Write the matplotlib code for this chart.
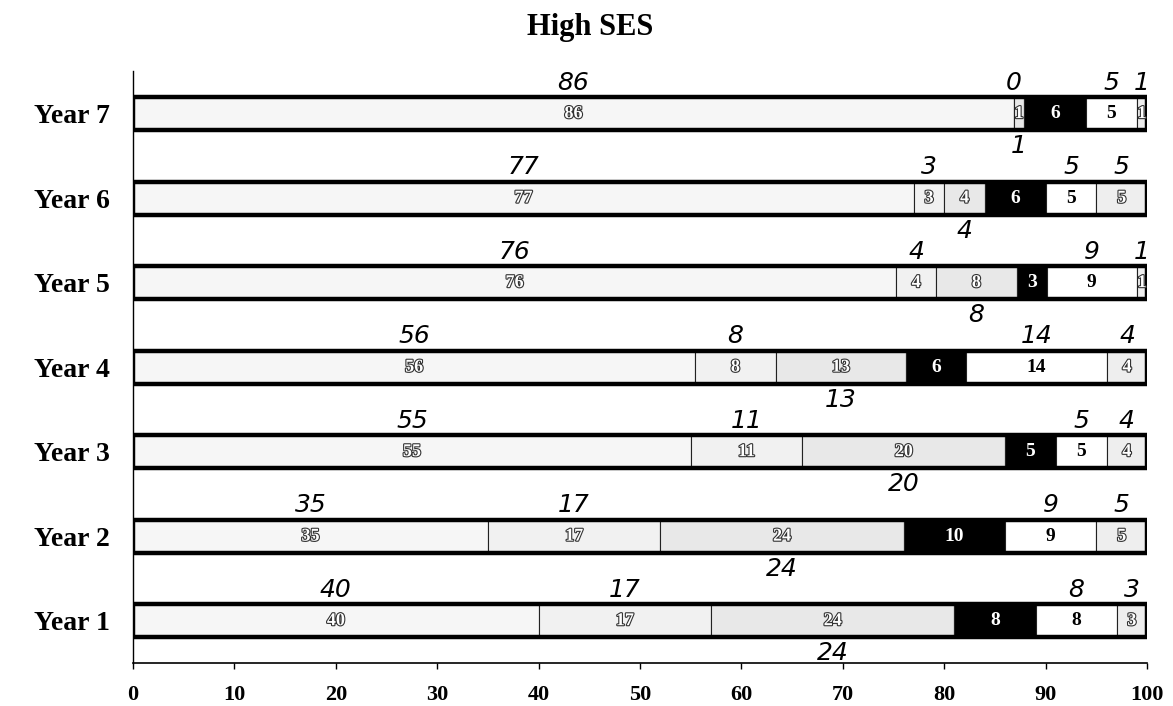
import matplotlib
matplotlib.use("Agg")
import matplotlib.pyplot as plt
import matplotlib.patheffects as pe
from matplotlib.patches import Rectangle

years = ["Year 1", "Year 2", "Year 3", "Year 4", "Year 5", "Year 6", "Year 7"]

# six answer categories per year, left to right (labels printed on the bars)
seg1 = [40, 35, 55, 56, 76, 77, 86]
seg2 = [17, 17, 11, 8, 4, 3, 0]
seg3 = [24, 24, 20, 13, 8, 4, 1]
seg4 = [8, 10, 5, 6, 3, 6, 6]
seg5 = [8, 9, 5, 14, 9, 5, 5]
seg6 = [3, 5, 4, 4, 1, 5, 1]

x_ticks = [0, 10, 20, 30, 40, 50, 60, 70, 80, 90, 100]


def graph_high_ses():
    segments = [seg1, seg2, seg3, seg4, seg5, seg6]
    colors = ["#f6f6f6", "#f1f1f1", "#e8e8e8", "black", "white", "#eeeeee"]
    # how the printed number looks in each segment
    label_style = ["hollow", "hollow", "hollow", "white", "black", "hollow"]
    # handwritten notes: above the bar, below the bar or none
    note_pos = ["above", "above", "below", None, "above", "above"]

    serif = "Liberation Serif"
    fig = plt.figure(figsize=(11.73, 7.06), dpi=100)
    ax = fig.add_axes([0.1134, 0.061, 0.8645, 0.838])

    height = 0.39
    for i in range(len(years)):
        row = [s[i] for s in segments]
        total = sum(row)
        left = 0
        for j, v in enumerate(row):
            w = v / total * 100  # 100 % stacked
            ax.barh(i, w, height, left=left, color=colors[j],
                    edgecolor="#222222", linewidth=0.8, zorder=2)
            cx = left + w / 2
            if v > 0:
                if label_style[j] == "hollow":
                    ax.text(cx, i, str(v), ha="center", va="center",
                            fontsize=13, family=serif, color="white",
                            fontweight="bold", zorder=4,
                            path_effects=[pe.withStroke(linewidth=1.6, foreground="#333333")])
                else:
                    ax.text(cx, i, str(v), ha="center", va="center",
                            fontsize=14, family=serif, fontweight="bold",
                            color=label_style[j], zorder=4)
            # handwritten numbers
            if note_pos[j] == "above":
                ax.text(cx, i + height / 2 + 0.03, str(v), ha="center", va="bottom",
                        fontsize=18, style="italic", color="black",
                        family="DejaVu Sans", fontweight="light", zorder=5)
            elif note_pos[j] == "below":
                ax.text(cx, i - height / 2 - 0.05, str(v), ha="center", va="top",
                        fontsize=18, style="italic", color="black",
                        family="DejaVu Sans", fontweight="light", zorder=5)
            left += w
        # thick outline round the whole bar
        ax.add_patch(Rectangle((0, i - height / 2), 100, height, fill=False,
                               edgecolor="black", linewidth=3.2, zorder=3))

    ax.set_xlim(0, 100)
    ax.set_ylim(-0.5, 6.5)
    ax.set_xticks(x_ticks)
    ax.set_xticklabels([str(t) for t in x_ticks], family=serif,
                       fontweight="bold", fontsize=16)
    ax.set_yticks(range(len(years)))
    ax.set_yticklabels(years, family=serif, fontweight="bold", fontsize=20)
    ax.tick_params(axis="x", length=4, width=1, pad=12, direction="out")
    ax.tick_params(axis="y", length=0, pad=17)
    ax.spines["top"].set_visible(False)
    ax.spines["right"].set_visible(False)
    ax.spines["left"].set_linewidth(1)
    ax.spines["bottom"].set_linewidth(1.2)

    fig.text(0.503, 0.950, "High SES", ha="center", va="baseline",
             family=serif, fontweight="bold", fontsize=22)

    fig.savefig("out.png", dpi=100)


if __name__ == "__main__":
    graph_high_ses()
